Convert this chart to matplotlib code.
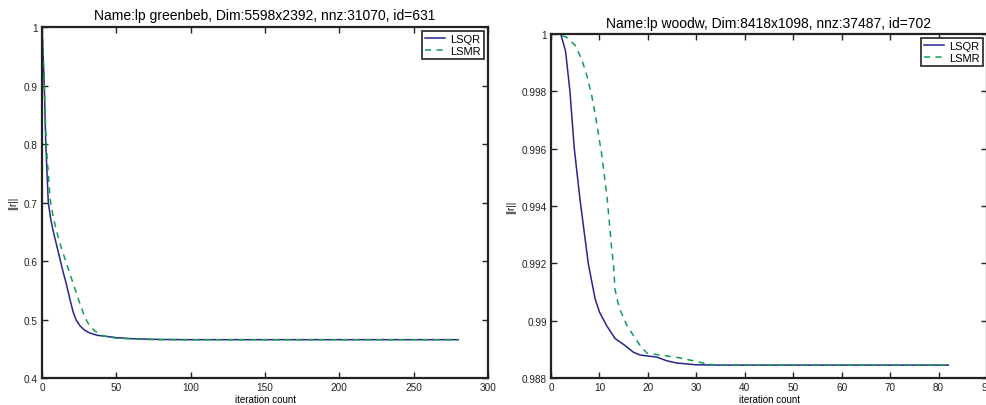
import matplotlib
matplotlib.use("Agg")
import matplotlib.pyplot as plt
from matplotlib.ticker import FuncFormatter

plt.rcParams['font.family'] = ['Liberation Sans', 'DejaVu Sans']

# left problem: lp greenbeb
left_title = "Name:lp greenbeb, Dim:5598x2392, nnz:31070, id=631"
left_lsqr_it = [0, 1.5, 2.5, 4.2, 5.8, 7.6, 10, 12.1, 14.3, 16.6, 19, 21, 23, 25.6, 28.5, 32, 37, 43.5, 50, 61.6, 80, 100, 280]
left_lsqr_r = [1.0, 0.9, 0.8, 0.7, 0.672, 0.65, 0.625, 0.603, 0.58, 0.558, 0.532, 0.512, 0.499, 0.489, 0.482,
               0.477, 0.473, 0.471, 0.469, 0.467, 0.4658, 0.4655, 0.4655]
left_lsmr_it = [0, 1.5, 2.8, 5.4, 7.5, 9.9, 13, 15.9, 19, 22.2, 25.5, 28.9, 32, 35.6, 41.2, 50.2, 70, 100, 280]
left_lsmr_r = [1.0, 0.9, 0.8, 0.706, 0.675, 0.65, 0.622, 0.6, 0.576, 0.552, 0.527, 0.503, 0.489, 0.48, 0.472,
               0.468, 0.4658, 0.4655, 0.4655]

# right problem: lp woodw
right_title = "Name:lp woodw, Dim:8418x1098, nnz:37487, id=702"
right_lsqr_it = [0, 2, 3, 3.9, 4.8, 6, 7.7, 9.1, 10, 11.5, 13.2, 15.3, 17, 18.4, 21.8, 23.9, 26, 30.1, 35, 82]
right_lsqr_r = [1.0, 1.0, 0.9994, 0.998, 0.996, 0.9942, 0.99198, 0.99076, 0.9903, 0.98982, 0.98938, 0.98913,
                0.9889, 0.9888, 0.98873, 0.9886, 0.98852, 0.98846, 0.98845, 0.98845]
right_lsmr_it = [0, 1.2, 3.2, 5, 6.3, 7.4, 8.4, 9.4, 10.5, 11.6, 12.5, 12.9, 13.2, 13.7, 14.3, 15.7, 17, 18.4, 19.8,
                 22.5, 26, 29.4, 32.2, 34.2, 82]
right_lsmr_r = [1.0, 1.0, 0.99989, 0.9996, 0.99913, 0.99855, 0.99785, 0.99692, 0.99575, 0.99424, 0.99256, 0.99192,
                0.9911, 0.9907, 0.99036, 0.98982, 0.98948, 0.98913, 0.98887, 0.9888, 0.98872, 0.9886, 0.98849,
                0.98845, 0.98845]

lsqr_color = "#26268f"
lsmr_color = "#0f9f4f"

fig = plt.figure(figsize=(9.87, 4.06), dpi=100)
ax1 = fig.add_axes([0.0426, 0.0665, 0.4518, 0.8645])
ax2 = fig.add_axes([0.5583, 0.0665, 0.4417, 0.8473])


def style_axes(ax):
    ax.tick_params(direction="in", length=4, width=1, labelsize=7.2, top=True, right=True, pad=3, colors="#222222")
    for s in ax.spines.values():
        s.set_linewidth(1.6)
        s.set_color("#222222")
    ax.set_xlabel("iteration count", fontsize=7, labelpad=1)
    ax.set_ylabel("||r||", fontsize=7, labelpad=4)
    ax.yaxis.set_major_formatter(FuncFormatter(lambda v, p: "%g" % round(v, 6)))
    leg = ax.legend(loc="upper right", fontsize=8, fancybox=False, framealpha=1, edgecolor="#222222",
                    borderpad=0.3, labelspacing=0.15, handlelength=1.8, handletextpad=0.45, borderaxespad=0.35)
    leg.get_frame().set_linewidth(1.2)


ax1.plot(left_lsqr_it, left_lsqr_r, color=lsqr_color, lw=1.1, label="LSQR")
ax1.plot(left_lsmr_it, left_lsmr_r, color=lsmr_color, lw=1.1, ls=(0, (4, 3.5)), label="LSMR")
ax1.set_xlim(0, 300)
ax1.set_ylim(0.4, 1.0)
ax1.set_xticks(range(0, 301, 50))
ax1.set_yticks([0.4, 0.5, 0.6, 0.7, 0.8, 0.9, 1.0])
ax1.set_title(left_title, fontsize=10, pad=6)
style_axes(ax1)

ax2.plot(right_lsqr_it, right_lsqr_r, color=lsqr_color, lw=1.1, label="LSQR")
ax2.plot(right_lsmr_it, right_lsmr_r, color=lsmr_color, lw=1.1, ls=(0, (4, 3.5)), label="LSMR")
ax2.set_xlim(0, 90)
ax2.set_ylim(0.988, 1.0)
ax2.set_xticks(range(0, 91, 10))
ax2.set_yticks([0.988, 0.99, 0.992, 0.994, 0.996, 0.998, 1.0])
ax2.set_title(right_title, fontsize=10, pad=5)
style_axes(ax2)

fig.savefig("out.png", dpi=100)
